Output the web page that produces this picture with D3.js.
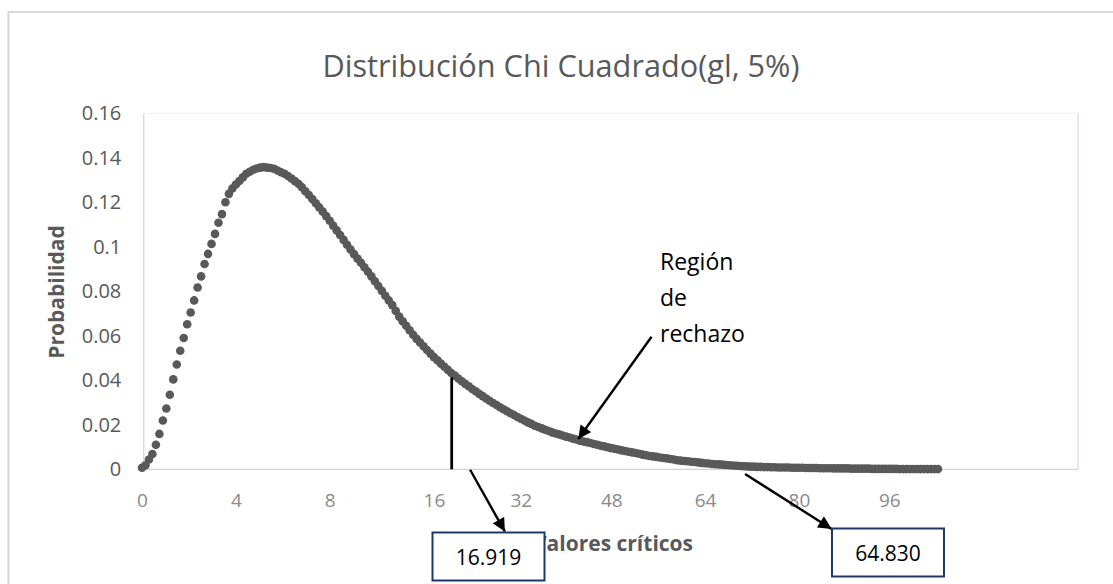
<!DOCTYPE html>
<html>
<head>
<meta charset="utf-8">
<script src="https://cdn.jsdelivr.net/npm/d3@7"></script>
<style>
  body { margin: 0; background: #fff; }
  text { font-family: "Open Sans", "Noto Sans", sans-serif; }
</style>
</head>
<body>
<div id="chart"></div>
<script>
// probabilidad de cada punto (categoria = posicion en el eje)
const probabilidad = [
  0.0007, 0.0018, 0.0044, 0.0069, 0.0110, 0.0159, 0.0219, 0.0273, 0.0335, 0.0404,
  0.0471, 0.0533, 0.0590, 0.0652, 0.0705, 0.0759, 0.0817, 0.0867, 0.0923, 0.0968,
  0.1013, 0.1058, 0.1108, 0.1147, 0.1200, 0.1238, 0.1262, 0.1280, 0.1296, 0.1312,
  0.1328, 0.1337, 0.1346, 0.1352, 0.1356, 0.1358, 0.1356, 0.1354, 0.1351, 0.1343,
  0.1335, 0.1328, 0.1318, 0.1307, 0.1295, 0.1283, 0.1268, 0.1250, 0.1233, 0.1215,
  0.1196, 0.1177, 0.1158, 0.1138, 0.1117, 0.1095, 0.1074, 0.1053, 0.1031, 0.1009,
  0.0988, 0.0967, 0.0947, 0.0928, 0.0908, 0.0888, 0.0867, 0.0845, 0.0824, 0.0802,
  0.0780, 0.0759, 0.0738, 0.0712, 0.0686, 0.0665, 0.0645, 0.0625, 0.0605, 0.0586,
  0.0570, 0.0553, 0.0536, 0.0520, 0.0504, 0.0490, 0.0475, 0.0461, 0.0447, 0.0433,
  0.0421, 0.0408, 0.0396, 0.0384, 0.0373, 0.0361, 0.0351, 0.0339, 0.0329, 0.0318,
  0.0308, 0.0298, 0.0289, 0.0279, 0.0270, 0.0261, 0.0252, 0.0244, 0.0235, 0.0227,
  0.0219, 0.0211, 0.0204, 0.0196, 0.0190, 0.0184, 0.0178, 0.0172, 0.0166, 0.0161,
  0.0157, 0.0152, 0.0147, 0.0143, 0.0138, 0.0134, 0.0129, 0.0125, 0.0122, 0.0118,
  0.0114, 0.0110, 0.0106, 0.0103, 0.0099, 0.0095, 0.0092, 0.0089, 0.0085, 0.0082,
  0.0079, 0.0076, 0.0073, 0.0070, 0.0066, 0.0063, 0.0060, 0.0058, 0.0056, 0.0053,
  0.0051, 0.0049, 0.0046, 0.0044, 0.0041, 0.0039, 0.0037, 0.0036, 0.0034, 0.0033,
  0.0031, 0.0029, 0.0027, 0.0026, 0.0024, 0.0023, 0.0022, 0.0021, 0.0019, 0.0018,
  0.0017, 0.0016, 0.0015, 0.0014, 0.0013, 0.0012, 0.0012, 0.0011, 0.0011, 0.0010,
  0.0010, 0.0009, 0.0009, 0.0008, 0.0008, 0.0008, 0.0008, 0.0007, 0.0007, 0.0007,
  0.0007, 0.0006, 0.0006, 0.0006, 0.0006, 0.0005, 0.0005, 0.0005, 0.0005, 0.0004,
  0.0004, 0.0004, 0.0004, 0.0004, 0.0003, 0.0003, 0.0003, 0.0003, 0.0003, 0.0003,
  0.0002, 0.0002, 0.0002, 0.0002, 0.0002, 0.0002, 0.0002, 0.0002, 0.0001, 0.0001,
  0.0001, 0.0001, 0.0001, 0.0001, 0.0001, 0.0001, 0.0001, 0.0001, 0.0001, 0.0001
];

// etiquetas del eje x (categorias donde aparecen)
const x_tick_pos = [0, 27, 54, 84, 109, 135, 162, 189, 215];
const x_tick_labels = ["0", "4", "8", "16", "32", "48", "64", "80", "96"];
const y_ticks = [0, 0.02, 0.04, 0.06, 0.08, 0.1, 0.12, 0.14, 0.16];
const y_tick_labels = ["0", "0.02", "0.04", "0.06", "0.08", "0.1", "0.12", "0.14", "0.16"];

// valores criticos y su posicion (categoria, probabilidad)
const valores_criticos = ["16.919", "64.830"];
const critico_linea = {pos: 89.1, top: 0.0413};
const flechas = [
  {from: [94.4, -0.0002], to: [104.4, -0.0280]},
  {from: [146.6, 0.0596], to: [125.5, 0.0136]},
  {from: [173.5, -0.0021], to: [198.4, -0.0268]}
];
const region_texto = ["Región", "de", "rechazo"];

const c_width = 1113;
const c_height = 584;
const plot = {left: 143.3, right: 1078, top: 113.3, bottom: 469.3};
const punto_color = "#595959";

const svg = d3.select("#chart").append("svg")
  .attr("width", c_width)
  .attr("height", c_height);

svg.append("defs").append("marker")
  .attr("id", "punta")
  .attr("viewBox", "0 0 10 10")
  .attr("refX", 10).attr("refY", 5)
  .attr("markerWidth", 6).attr("markerHeight", 5.5)
  .attr("markerUnits", "strokeWidth")
  .attr("orient", "auto")
  .append("path").attr("d", "M0,0 L10,5 L0,10 z").attr("fill", "#000");

// borde del grafico (cortado a la derecha y abajo)
svg.append("rect")
  .attr("x", 8.5).attr("y", 12).attr("width", 1200).attr("height", 700)
  .attr("fill", "none").attr("stroke", "#d9d9d9").attr("stroke-width", 2);

const x = d3.scaleLinear().domain([0, 269]).range([142, 1077]);
const y = d3.scaleLinear().domain([0, 0.16]).range([plot.bottom, plot.top]);

// borde del area de trazado
svg.append("line")
  .attr("x1", plot.left).attr("x2", plot.right).attr("y1", plot.top).attr("y2", plot.top)
  .attr("stroke", "#f0f0f0");
svg.append("line")
  .attr("x1", plot.right).attr("x2", plot.right).attr("y1", plot.top).attr("y2", plot.bottom)
  .attr("stroke", "#c8d6ef");

// ejes
const yAxis = svg.append("g")
  .attr("transform", "translate(" + plot.left + ",0)")
  .call(d3.axisLeft(y).tickValues(y_ticks)
    .tickFormat((d, i) => y_tick_labels[i])
    .tickSize(0).tickPadding(22));
yAxis.select(".domain").attr("stroke", "#c9c9c9");
yAxis.selectAll("text").attr("font-size", 20).attr("fill", "#595959")
  .style("font-family", "'Open Sans', sans-serif");

const xAxis = svg.append("g")
  .attr("transform", "translate(0," + plot.bottom + ")")
  .call(d3.axisBottom(x).tickValues(x_tick_pos)
    .tickFormat((d, i) => x_tick_labels[i])
    .tickSize(0).tickPadding(24));
xAxis.select(".domain").attr("d", "M" + plot.left + ",0H" + plot.right).attr("stroke", "#c9c9c9");
xAxis.selectAll("text").attr("font-size", 19).attr("fill", "#8a8a8a")
  .style("font-family", "'Open Sans', sans-serif");

// puntos de la distribucion
svg.append("g").selectAll("circle")
  .data(probabilidad)
  .enter()
  .append("circle")
  .attr("cx", (d, i) => x(i))
  .attr("cy", d => y(d))
  .attr("r", 4.3)
  .attr("fill", punto_color);

// titulos
svg.append("text")
  .attr("x", 561).attr("y", 77)
  .attr("text-anchor", "middle")
  .attr("font-size", 31)
  .attr("fill", "#595959")
  .attr("textLength", 477).attr("lengthAdjust", "spacingAndGlyphs")
  .text("Distribución Chi Cuadrado(gl, 5%)");

svg.append("text")
  .attr("transform", "translate(64,292) rotate(-90)")
  .attr("text-anchor", "middle")
  .attr("font-size", 21).attr("font-weight", "bold")
  .attr("fill", "#595959")
  .text("Probabilidad");

svg.append("text")
  .attr("x", 613).attr("y", 551)
  .attr("text-anchor", "middle")
  .attr("font-size", 21).attr("font-weight", "bold")
  .attr("fill", "#595959")
  .text("Valores críticos");

// linea del valor critico
svg.append("line")
  .attr("x1", x(critico_linea.pos)).attr("x2", x(critico_linea.pos))
  .attr("y1", y(critico_linea.top)).attr("y2", y(0))
  .attr("stroke", "#000").attr("stroke-width", 2.8);

// flechas
svg.append("g").selectAll("line")
  .data(flechas)
  .enter()
  .append("line")
  .attr("x1", d => x(d.from[0])).attr("y1", d => y(d.from[1]))
  .attr("x2", d => x(d.to[0])).attr("y2", d => y(d.to[1]))
  .attr("stroke", "#000").attr("stroke-width", 2.4)
  .attr("marker-end", "url(#punta)");

// texto region de rechazo
svg.append("g").selectAll("text")
  .data(region_texto)
  .enter()
  .append("text")
  .attr("x", 660)
  .attr("y", (d, i) => 270 + i * 36)
  .attr("font-size", 23)
  .attr("fill", "#000")
  .text(d => d);

// cajas con los valores criticos
const cajas = [
  {x: 432.5, y: 532.5, w: 112, h: 48},
  {x: 832, y: 528.5, w: 112, h: 48}
];
const caja = svg.append("g").selectAll("g")
  .data(valores_criticos)
  .enter()
  .append("g");
caja.append("rect")
  .attr("x", (d, i) => cajas[i].x).attr("y", (d, i) => cajas[i].y)
  .attr("width", (d, i) => cajas[i].w).attr("height", (d, i) => cajas[i].h)
  .attr("fill", "#fff").attr("stroke", "#203864").attr("stroke-width", 2);
caja.append("text")
  .attr("x", (d, i) => cajas[i].x + cajas[i].w / 2)
  .attr("y", (d, i) => cajas[i].y + cajas[i].h / 2 + 8)
  .attr("text-anchor", "middle")
  .attr("font-size", 21)
  .attr("fill", "#000")
  .text(d => d);
</script>
</body>
</html>
